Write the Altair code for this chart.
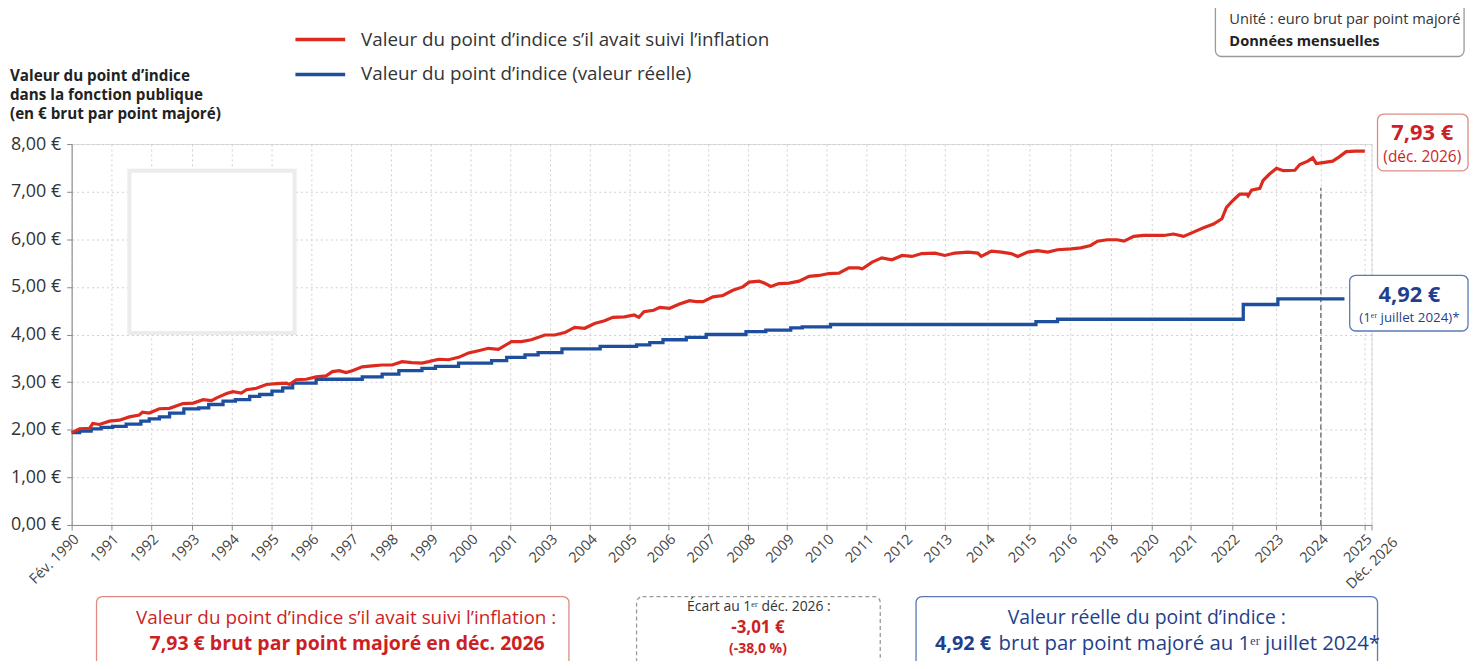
import altair as alt
import pandas as pd

FONT = "Open Sans"
RED = "#dd2a1f"
RED_TXT = "#cc1f26"
BLUE = "#1d4f9e"
BLUE_TXT = "#1f3f8c"

x_labels = ["Fév. 1990", "1991", "1992", "1993", "1994", "1995", "1996", "1997", "1998",
            "1999", "2000", "2001", "2003", "2004", "2005", "2006", "2007", "2008", "2009",
            "2010", "2011", "2012", "2013", "2014", "2015", "2016", "2018", "2020", "2021",
            "2022", "2023", "2024", "2025", "Déc. 2026"]

# x position of each label slot on the (slightly irregular) axis of the original
x_tick_offsets = [0, 40, 80, 121, 161, 201, 241, 281, 321, 361, 401, 441, 481, 521, 561, 600,
                  640, 680, 719, 759, 799, 838, 878, 921, 963, 1004, 1045, 1086, 1125, 1167,
                  1211, 1256, 1300, 1307]

# Red series: value of the index point had it followed inflation (slot units on x)
red_slot = [0.0, 0.2, 0.45, 0.53, 0.7, 0.95, 1.2, 1.45, 1.7, 1.78, 1.95, 2.2, 2.45, 2.78, 3.03,
            3.28, 3.49, 3.62, 3.87, 4.03, 4.24, 4.37, 4.62, 4.87, 5.12, 5.37, 5.45, 5.62, 5.87,
            6.12, 6.37, 6.53, 6.7, 6.87, 7.03, 7.28, 7.53, 7.78, 8.03, 8.28, 8.53, 8.78, 8.95,
            9.2, 9.45, 9.7, 9.95, 10.2, 10.45, 10.7, 11.03, 11.28, 11.53, 11.87, 12.12, 12.37,
            12.62, 12.87, 13.12, 13.37, 13.58, 13.87, 14.12, 14.24, 14.37, 14.62, 14.78, 15.03,
            15.28, 15.53, 15.7, 15.87, 16.12, 16.37, 16.62, 16.87, 17.03, 17.29, 17.42, 17.59,
            17.8, 18.06, 18.31, 18.56, 18.81, 19.06, 19.31, 19.56, 19.81, 19.9, 20.15, 20.4,
            20.66, 20.92, 21.17, 21.42, 21.75, 22.0, 22.23, 22.54, 22.77, 22.85, 23.09, 23.33,
            23.56, 23.72, 23.96, 24.2, 24.45, 24.69, 25.02, 25.26, 25.5, 25.67, 25.91, 26.15,
            26.32, 26.56, 26.8, 27.05, 27.31, 27.56, 27.82, 28.07, 28.31, 28.55, 28.75, 28.86,
            29.02, 29.17, 29.33, 29.36, 29.44, 29.63, 29.7, 29.85, 30.01, 30.16, 30.42, 30.53,
            30.71, 30.82, 30.9, 31.05, 31.27, 31.42, 31.58, 31.8, 32.03]
red_value = [1.94, 2.02, 2.03, 2.13, 2.11, 2.18, 2.20, 2.27, 2.31, 2.37, 2.35, 2.44, 2.45, 2.55,
             2.56, 2.63, 2.61, 2.67, 2.76, 2.80, 2.77, 2.84, 2.87, 2.95, 2.97, 2.98, 2.95, 3.05,
             3.06, 3.11, 3.13, 3.22, 3.24, 3.20, 3.24, 3.32, 3.34, 3.36, 3.36, 3.43, 3.41, 3.40,
             3.43, 3.48, 3.47, 3.52, 3.61, 3.66, 3.71, 3.69, 3.85, 3.85, 3.89, 3.99, 3.99, 4.04,
             4.15, 4.13, 4.23, 4.29, 4.36, 4.37, 4.41, 4.36, 4.48, 4.51, 4.57, 4.55, 4.64, 4.71,
             4.69, 4.69, 4.79, 4.82, 4.93, 5.00, 5.10, 5.12, 5.08, 5.01, 5.07, 5.08, 5.12, 5.22,
             5.24, 5.28, 5.29, 5.40, 5.40, 5.38, 5.52, 5.61, 5.57, 5.66, 5.64, 5.70, 5.71, 5.66,
             5.71, 5.73, 5.71, 5.64, 5.75, 5.73, 5.70, 5.64, 5.73, 5.76, 5.73, 5.78, 5.80, 5.82,
             5.87, 5.96, 5.99, 5.99, 5.96, 6.06, 6.08, 6.08, 6.08, 6.11, 6.06, 6.15, 6.24, 6.32,
             6.43, 6.67, 6.82, 6.95, 6.95, 6.91, 7.03, 7.07, 7.23, 7.37, 7.49, 7.44, 7.45, 7.57,
             7.64, 7.71, 7.59, 7.61, 7.64, 7.73, 7.84, 7.85, 7.85]

# Blue series: actual index point value (step changes)
blue_slot = [0.0, 0.2, 0.49, 0.74, 1.03, 1.37, 1.74, 1.95, 2.2, 2.45, 2.8, 3.17, 3.42, 3.78, 4.09,
             4.45, 4.7, 5.01, 5.28, 5.53, 6.12, 7.28, 7.78, 8.2, 8.78, 9.12, 9.7, 10.53, 10.91,
             11.37, 11.7, 12.3, 13.26, 14.18, 14.52, 14.86, 15.45, 15.95, 16.95, 17.46, 18.1,
             18.39, 19.1, 24.16, 24.69, 29.25, 30.04, 31.54]
blue_value = [1.94, 1.97, 2.02, 2.05, 2.07, 2.12, 2.18, 2.23, 2.27, 2.35, 2.44, 2.46, 2.53, 2.60,
              2.63, 2.70, 2.74, 2.81, 2.88, 2.98, 3.06, 3.11, 3.17, 3.24, 3.29, 3.33, 3.40, 3.45,
              3.52, 3.57, 3.62, 3.70, 3.75, 3.78, 3.83, 3.89, 3.94, 4.00, 4.06, 4.09, 4.14, 4.16,
              4.21, 4.27, 4.32, 4.63, 4.75, 4.75]

marker_slot = [31]
marker_top = [7.08]

blank_panel = {"x1": [1.45], "x2": [5.58], "y1": [4.03], "y2": [7.44]}

red_df = pd.DataFrame({"slot": red_slot, "value": red_value})
blue_df = pd.DataFrame({"slot": blue_slot, "value": blue_value})
marker_df = pd.DataFrame({"slot": marker_slot, "top": marker_top, "bottom": [0]})
panel_df = pd.DataFrame(blank_panel)
one = pd.DataFrame({"a": [0]})

last = len(x_labels) - 1
label_array = "[" + ",".join("'" + s + "'" for s in x_labels) + "]"

x_scale = alt.Scale(domain=list(range(len(x_labels))), range=x_tick_offsets)
y_scale = alt.Scale(domain=[0, 8])

x_axis = alt.Axis(values=list(range(len(x_labels))),
                  labelExpr="datum.value < %d ? %s[datum.value] : ''" % (last, label_array),
                  labelAngle=-45, labelAlign="right", labelBaseline="top", labelFontSize=14.5,
                  labelColor="#444", labelFont=FONT, tickSize=5, tickColor="#888",
                  domainColor="#888", grid=True, gridDash=[2, 3], gridColor="#cfcfcf",
                  labelPadding=2, title="", labelOverlap=False, labelFlush=False,
                  labelBound=False)
y_axis = alt.Axis(values=list(range(9)),
                  labelExpr="replace(format(datum.value, '.2f'), '.', ',') + ' €'",
                  labelFontSize=18, labelColor="#333", labelFont=FONT, tickSize=5,
                  tickColor="#888", domainColor="#888", grid=True, gridDash=[2, 3],
                  gridColor="#cfcfcf", labelPadding=6, title="", labelOverlap=False)

X0, Y0 = 72, 143  # plot origin on the page


def txt(text, x, y, size, color, weight="normal", align="left", baseline="middle", angle=0):
    return alt.Chart(one).mark_text(
        text=text, fontSize=size, color=color, fontWeight=weight, align=align,
        baseline=baseline, font=FONT, angle=angle
    ).encode(x=alt.value(x - X0), y=alt.value(y - Y0))


def box(x1, y1, x2, y2, stroke, dash=False):
    kw = dict(fill="white", stroke=stroke, strokeWidth=1.3, cornerRadius=6)
    if dash:
        kw["strokeDash"] = [4, 3]
    return alt.Chart(one).mark_rect(**kw).encode(
        x=alt.value(x1 - X0), x2=alt.value(x2 - X0), y=alt.value(y1 - Y0), y2=alt.value(y2 - Y0))


def hline(x1, x2, y, color):
    return alt.Chart(one).mark_rule(color=color, strokeWidth=3.5).encode(
        x=alt.value(x1 - X0), x2=alt.value(x2 - X0), y=alt.value(y - Y0))


def X(field):
    return alt.X(field, scale=x_scale, axis=x_axis)


def Y(field):
    return alt.Y(field, scale=y_scale, axis=y_axis)


panel = alt.Chart(panel_df).mark_rect(fill="white", stroke="#ececec", strokeWidth=4).encode(
    x=X("x1:Q"), x2="x2:Q", y=Y("y1:Q"), y2="y2:Q")

marker = alt.Chart(marker_df).mark_rule(color="#777", strokeDash=[5, 3], strokeWidth=1.5).encode(
    x=X("slot:Q"), y=Y("bottom:Q"), y2="top:Q")

blue_line = alt.Chart(blue_df).mark_line(color=BLUE, strokeWidth=3.3, interpolate="step-after").encode(
    x=X("slot:Q"), y=Y("value:Q"))
red_line = alt.Chart(red_df).mark_line(color=RED, strokeWidth=3.2).encode(
    x=X("slot:Q"), y=Y("value:Q"))

layers = [panel, marker, blue_line, red_line]

# last x label, drawn rotated about its centre as in the original
layers += [txt(x_labels[last], 1380, 565, 14.5, "#444", "normal", "center", angle=315)]

# y-axis title
layers += [
    txt("Valeur du point d’indice", 10, 75, 15.3, "#222", "bold"),
    txt("dans la fonction publique", 10, 94, 15.3, "#222", "bold"),
    txt("(en € brut par point majoré)", 10, 113, 15.3, "#222", "bold"),
]

# legend
layers += [
    hline(297, 347, 38, RED),
    hline(297, 347, 73, BLUE),
    txt("Valeur du point d’indice s’il avait suivi l’inflation", 363, 38, 18.9, "#333"),
    txt("Valeur du point d’indice (valeur réelle)", 363, 73, 18.9, "#333"),
]

# unit box
layers += [
    box(1222, 1, 1472, 55, "#9a9a9a"),
    txt("Unité : euro brut par point majoré", 1236, 18, 14.7, "#333"),
    txt("Données mensuelles", 1236, 40, 14.7, "#222", "bold"),
]

# right annotations
layers += [
    box(1385, 113, 1476, 170, "#e08a84"),
    txt("7,93 €", 1430, 132, 22, RED_TXT, "bold", "center"),
    txt("(déc. 2026)", 1430, 156, 15.5, RED_TXT, "normal", "center"),
    box(1357, 275, 1476, 331, "#5a79b5"),
    txt("4,92 €", 1417, 295, 22, BLUE_TXT, "bold", "center"),
    txt("(1ᵉʳ juillet 2024)*", 1417, 318, 13.4, BLUE_TXT, "normal", "center"),
]

# bottom summary boxes
layers += [
    box(97, 598, 572, 668, "#e08a84"),
    txt("Valeur du point d’indice s’il avait suivi l’inflation :", 348, 620, 19, RED_TXT, "normal", "center"),
    txt("7,93 € brut par point majoré en déc. 2026", 349, 646, 19.6, RED_TXT, "bold", "center"),
    box(640, 598, 885, 680, "#999", dash=True),
    txt("Écart au 1ᵉʳ déc. 2026 :", 763, 609, 14, "#333", "normal", "center"),
    txt("-3,01 €", 762, 630, 17, RED_TXT, "bold", "center"),
    txt("(-38,0 %)", 762, 651, 14, RED_TXT, "bold", "center"),
    box(921, 598, 1385, 668, "#5a79b5"),
    txt("Valeur réelle du point d’indice :", 1153, 620, 19.5, BLUE_TXT, "normal", "center"),
    txt("4,92 €", 940, 646, 20, BLUE_TXT, "bold", "left"),
    txt("brut par point majoré au 1ᵉʳ juillet 2024*", 1004, 646, 20.5, BLUE_TXT, "normal", "left"),
]

chart = alt.layer(*layers).properties(
    width=1307, height=383,
    autosize=alt.AutoSizeParams(type="none"),
    padding={"left": 64, "top": 135, "right": 104, "bottom": 135},
).configure_view(strokeWidth=0).configure(background="white").configure_axis(labelOverlap=False)

chart.save("out.html", embed_options={"renderer": "svg", "actions": False})
